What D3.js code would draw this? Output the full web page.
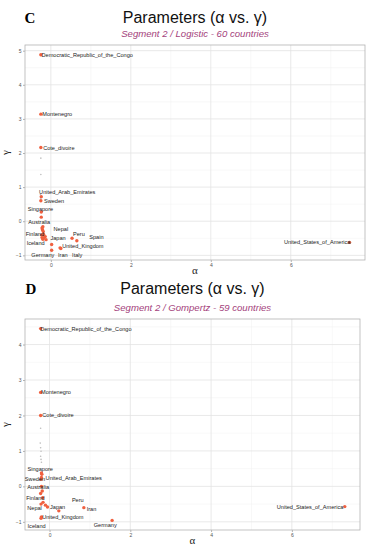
<!DOCTYPE html>
<html>
<head>
<meta charset="utf-8">
<script src="https://cdn.jsdelivr.net/npm/d3@7"></script>
<style>
  body { margin: 0; background: #fff; }
  svg { display: block; }
  text { font-family: "Liberation Sans", Arial, sans-serif; }
</style>
</head>
<body>
<div id="chart"></div>
<script>
// 1: DATA
// Panel C - logistic, segment 2
const logisticCountries = ["Democratic_Republic_of_the_Congo", "Montenegro", "Cote_divoire",
  "United_Arab_Emirates", "Sweden", "Singapore", "Australia", "Finland", "Iceland", "Nepal",
  "Japan", "Peru", "Spain", "United_Kingdom", "Germany", "Iran", "Italy", "United_States_of_America"];
const logisticAlpha = [-0.25, -0.25, -0.25, -0.24, -0.25, -0.24, -0.2, -0.18, -0.22, -0.14,
  -0.12, 0.53, 0.65, 0.23, 0.02, 0.02, 0.25, 7.47];
const logisticGamma = [4.88, 3.14, 2.16, 0.72, 0.6, 0.27, -0.16, -0.39, -0.48, -0.45,
  -0.54, -0.5, -0.57, -0.78, -0.85, -0.68, -0.8, -0.62];
// label spots picked by the repel step (data units)
const logisticLabelAlpha = [0.91, 0.16, 0.2, 0.41, 0.08, -0.26, -0.29, -0.4, -0.38, 0.25,
  0.18, 0.7, 1.14, 0.8, -0.2, 0.3, 0.66, 6.66];
const logisticLabelGamma = [4.88, 3.14, 2.16, 0.86, 0.6, 0.37, -0.02, -0.37, -0.64, -0.22,
  -0.5, -0.37, -0.46, -0.73, -0.99, -0.99, -0.99, -0.62];
// unlabelled countries in the cluster
const logisticOtherAlpha = [-0.24, -0.22, -0.21, -0.19, -0.23, -0.17, -0.2];
const logisticOtherGamma = [0.12, -0.2, -0.25, -0.3, -0.4, -0.48, -0.53];
const logisticGreyAlpha = [-0.25, -0.25, -0.26, -0.25];
const logisticGreyGamma = [1.85, 1.37, 0.78, 0.66];

// Panel D - Gompertz, segment 2
const gompertzCountries = ["Democratic_Republic_of_the_Congo", "Montenegro", "Cote_divoire",
  "Singapore", "Sweden", "United_Arab_Emirates", "Australia", "Finland", "Nepal", "Japan",
  "United_Kingdom", "Iceland", "Peru", "Iran", "Germany", "United_States_of_America"];
const gompertzAlpha = [-0.22, -0.22, -0.22, -0.2, -0.21, -0.2, -0.2, -0.17, -0.21, -0.05,
  -0.2, -0.21, 0.23, 0.85, 1.55, 7.31];
const gompertzGamma = [4.45, 2.65, 2.0, 0.38, 0.2, 0.25, 0.0, -0.32, -0.5, -0.58,
  -0.86, -0.9, -0.69, -0.6, -0.96, -0.57];
const gompertzLabelAlpha = [0.9, 0.16, 0.21, -0.23, -0.36, 0.6, -0.28, -0.35, -0.37, 0.2,
  0.33, -0.32, 0.7, 1.04, 1.38, 6.45];
const gompertzLabelGamma = [4.45, 2.65, 2.0, 0.5, 0.22, 0.24, -0.03, -0.34, -0.62, -0.57,
  -0.87, -1.11, -0.38, -0.63, -1.09, -0.57];
const gompertzOtherAlpha = [-0.19, -0.18, -0.1, -0.16, -0.22];
const gompertzOtherGamma = [0.34, -0.13, -0.53, -0.45, -0.2];
const gompertzGreyAlpha = [-0.22, -0.23, -0.22, -0.21, -0.22, -0.21, -0.2];
const gompertzGreyGamma = [1.64, 1.22, 1.09, 0.99, 0.85, 0.76, 0.68];

const xTicks = [0, 2, 4, 6];

// 2: SVG
const svg = d3.select("#chart").append("svg")
  .attr("width", 373)
  .attr("height", 550);

function drawPanel(p) {
  const allA = p.alpha.concat(p.otherA, p.greyA);
  const allG = p.gamma.concat(p.otherG, p.greyG);
  // ggplot style 5% expansion
  const [a0, a1] = d3.extent(allA);
  const [g0, g1] = d3.extent(allG);
  const ea = (a1 - a0) * 0.05, eg = (g1 - g0) * 0.05;

  const x = d3.scaleLinear().domain([a0 - ea, a1 + ea]).range([p.left, p.right]);
  const y = d3.scaleLinear().domain([g0 - eg, g1 + eg]).range([p.bottom, p.top]);

  const g = svg.append("g");

  // titles
  g.append("text")
    .attr("x", p.letterX).attr("y", p.titleY)
    .attr("text-anchor", "middle")
    .style("font-family", "'Liberation Serif', 'Times New Roman', serif")
    .style("font-weight", "bold")
    .style("font-size", "15px")
    .text(p.letter);
  g.append("text")
    .attr("x", (p.left + p.right) / 2).attr("y", p.titleY)
    .attr("text-anchor", "middle")
    .style("font-size", "16px")
    .style("fill", "#111")
    .text("Parameters (α vs. γ)");
  g.append("text")
    .attr("x", (p.left + p.right) / 2).attr("y", p.subY)
    .attr("text-anchor", "middle")
    .style("font-size", "9.6px")
    .style("font-style", "italic")
    .style("fill", "#a4427c")
    .text(p.subtitle);

  // grid
  const yMajor = d3.range(Math.ceil(y.domain()[0]), Math.floor(y.domain()[1]) + 1);
  const yMinor = d3.range(Math.ceil(y.domain()[0] - 0.5) + 0.5, y.domain()[1], 1);
  const xMinor = d3.range(-1, 9, 2).filter(v => v > x.domain()[0] && v < x.domain()[1]);

  g.selectAll(".gminY").data(yMinor).enter().append("line")
    .attr("x1", p.left).attr("x2", p.right)
    .attr("y1", d => y(d)).attr("y2", d => y(d))
    .style("stroke", "#f0f0f0").style("stroke-width", 0.5);
  g.selectAll(".gminX").data(xMinor).enter().append("line")
    .attr("y1", p.top).attr("y2", p.bottom)
    .attr("x1", d => x(d)).attr("x2", d => x(d))
    .style("stroke", "#f0f0f0").style("stroke-width", 0.5);
  g.selectAll(".gmajY").data(yMajor).enter().append("line")
    .attr("x1", p.left).attr("x2", p.right)
    .attr("y1", d => y(d)).attr("y2", d => y(d))
    .style("stroke", "#e3e3e3").style("stroke-width", 0.8);
  g.selectAll(".gmajX").data(xTicks).enter().append("line")
    .attr("y1", p.top).attr("y2", p.bottom)
    .attr("x1", d => x(d)).attr("x2", d => x(d))
    .style("stroke", "#e3e3e3").style("stroke-width", 0.8);

  // axes
  const xAxis = g.append("g")
    .attr("transform", `translate(0,${p.bottom})`)
    .call(d3.axisBottom(x).tickValues(xTicks).tickSize(2).tickPadding(1.5));
  const yAxis = g.append("g")
    .attr("transform", `translate(${p.left},0)`)
    .call(d3.axisLeft(y).tickValues(yMajor).tickSize(2).tickPadding(1.5).tickFormat(d3.format("d")));
  [xAxis, yAxis].forEach(a => {
    a.select(".domain").remove();
    a.selectAll("line").style("stroke", "#b3b3b3");
    a.selectAll("text").style("font-size", "5px").style("fill", "#555")
      .style("font-family", "'Liberation Sans', Arial, sans-serif");
  });

  g.append("rect")
    .attr("x", p.left).attr("y", p.top)
    .attr("width", p.right - p.left).attr("height", p.bottom - p.top)
    .style("fill", "none").style("stroke", "#b3b3b3").style("stroke-width", 0.8);

  // axis titles
  g.append("text")
    .attr("x", (p.left + p.right) / 2).attr("y", p.bottom + 14)
    .attr("text-anchor", "middle")
    .style("font-family", "'Liberation Serif', serif")
    .style("font-size", "11px").style("fill", "#222")
    .text("α");
  g.append("text")
    .attr("transform", `translate(9,${(p.top + p.bottom) / 2}) rotate(-90)`)
    .attr("text-anchor", "middle")
    .style("font-family", "'Liberation Serif', serif")
    .style("font-size", "11px").style("fill", "#222")
    .text("γ");

  // grey small marks
  g.selectAll(".grey").data(d3.range(p.greyA.length)).enter().append("circle")
    .attr("cx", i => x(p.greyA[i])).attr("cy", i => y(p.greyG[i]))
    .attr("r", 0.8).style("fill", "#bdbdbd");

  // points
  const pts = d3.range(p.alpha.length).map(i => [p.alpha[i], p.gamma[i]])
    .concat(d3.range(p.otherA.length).map(i => [p.otherA[i], p.otherG[i]]));
  g.selectAll(".pt").data(pts).enter().append("circle")
    .attr("cx", d => x(d[0])).attr("cy", d => y(d[1]))
    .attr("r", 1.7).style("fill", "#f0603f");

  // labels
  g.selectAll(".lab").data(p.names).enter().append("text")
    .attr("x", (d, i) => x(p.labA[i]))
    .attr("y", (d, i) => y(p.labG[i]))
    .attr("text-anchor", "middle")
    .attr("dominant-baseline", "central")
    .style("font-size", "5.6px")
    .style("fill", "#222")
    .text(d => d);
}

drawPanel({
  letter: "C", letterX: 30, titleY: 23, subY: 37,
  subtitle: "Segment 2 / Logistic - 60 countries",
  left: 25, right: 365, top: 45, bottom: 260,
  names: logisticCountries, alpha: logisticAlpha, gamma: logisticGamma,
  labA: logisticLabelAlpha, labG: logisticLabelGamma,
  otherA: logisticOtherAlpha, otherG: logisticOtherGamma,
  greyA: logisticGreyAlpha, greyG: logisticGreyGamma
});

drawPanel({
  letter: "D", letterX: 31, titleY: 294, subY: 311,
  subtitle: "Segment 2 / Gompertz - 59 countries",
  left: 25, right: 360, top: 319, bottom: 530,
  names: gompertzCountries, alpha: gompertzAlpha, gamma: gompertzGamma,
  labA: gompertzLabelAlpha, labG: gompertzLabelGamma,
  otherA: gompertzOtherAlpha, otherG: gompertzOtherGamma,
  greyA: gompertzGreyAlpha, greyG: gompertzGreyGamma
});
</script>
</body>
</html>
